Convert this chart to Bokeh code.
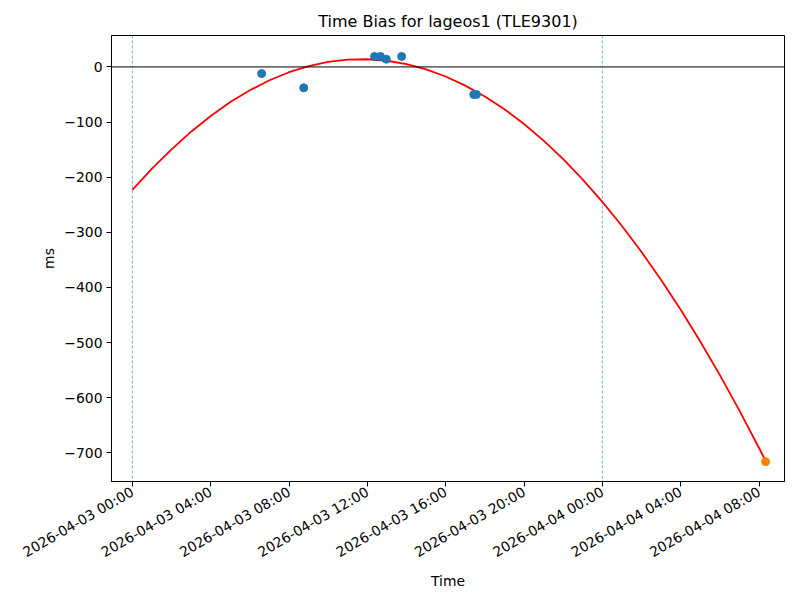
import math
import pandas as pd
from bokeh.plotting import figure
from bokeh.models import Span, FixedTicker, Range1d
from bokeh.embed import file_html
from bokeh.resources import INLINE

# ---- data ----
obs_times = ["2026-04-03 06:36", "2026-04-03 08:45", "2026-04-03 12:22", "2026-04-03 12:40",
             "2026-04-03 12:58", "2026-04-03 13:45", "2026-04-03 17:26", "2026-04-03 17:34"]
obs_bias = [-12, -38, 19, 19, 14, 19, -50, -50]

pred_times = ["2026-04-04 08:20"]
pred_bias = [-716]

fit_start = "2026-04-03 00:00"
fit_hours = [0, 1, 2, 3, 4, 5, 6, 7, 8, 9, 10, 11, 12, 13, 14, 15, 16, 17, 18, 19, 20,
             21, 22, 23, 24, 25, 26, 27, 28, 29, 30, 31, 32, 32.33]
fit_bias = [-223, -184.6, -149.6, -117.5, -88.9, -63.8, -42.3, -24.2, -9.6, 1.5, 9.0, 13.2,
            13.9, 11.2, 5.1, -4.5, -17.4, -33.9, -53.7, -76.9, -103.6, -133.8, -167.3, -204.3,
            -244.7, -288.5, -335.8, -386.4, -440.6, -498.0, -559.0, -623.5, -691.2, -714.5]

marker_times = ["2026-04-03 00:00", "2026-04-04 00:00"]

x_tick_labels = ["2026-04-03 00:00", "2026-04-03 04:00", "2026-04-03 08:00", "2026-04-03 12:00",
                 "2026-04-03 16:00", "2026-04-03 20:00", "2026-04-04 00:00", "2026-04-04 04:00",
                 "2026-04-04 08:00"]
y_ticks = [0, -100, -200, -300, -400, -500, -600, -700]

x_limits = ["2026-04-02 22:56", "2026-04-04 09:18"]
y_limits = [-752, 57]


def ms(s):
    return pd.Timestamp(s).value / 1e6


obs_x = [pd.Timestamp(t) for t in obs_times]
pred_x = [pd.Timestamp(t) for t in pred_times]
fit_x = [pd.Timestamp(fit_start) + pd.Timedelta(hours=h) for h in fit_hours]

FONT = "DejaVu Sans"

p = figure(width=785, height=592, x_axis_type="datetime", output_backend="svg",
           toolbar_location=None, title="Time Bias for lageos1 (TLE9301)",
           x_range=Range1d(pd.Timestamp(x_limits[0]), pd.Timestamp(x_limits[1])),
           y_range=Range1d(y_limits[0], y_limits[1]),
           min_border_left=111, min_border_right=1, min_border_top=35, min_border_bottom=111)

p.background_fill_color = "white"
p.border_fill_color = "white"
p.outline_line_color = "black"
p.outline_line_width = 1
p.grid.visible = False

p.title.text_font = FONT
p.title.text_font_size = "16px"
p.title.text_font_style = "normal"
p.title.align = "center"
p.title.text_color = "black"

# reference lines
p.add_layout(Span(location=0, dimension="width", line_color="black", line_width=1))
for t in marker_times:
    p.add_layout(Span(location=ms(t), dimension="height", line_color="#1f77b4",
                      line_width=0.6, line_dash="3 2"))

p.line(fit_x, fit_bias, line_color="red", line_width=1.8)
p.scatter(obs_x, obs_bias, size=8, fill_color="#1f77b4", line_color="#1f77b4")
p.scatter(pred_x, pred_bias, size=8, fill_color="#ff7f0e", line_color="#ff7f0e")

# axes
xt = [ms(s) for s in x_tick_labels]
p.xaxis.ticker = FixedTicker(ticks=xt)
p.xaxis.major_label_overrides = {v: s for v, s in zip(xt, x_tick_labels)}
p.xaxis.major_label_orientation = math.pi / 6
p.yaxis.ticker = FixedTicker(ticks=y_ticks)
p.yaxis.major_label_overrides = {v: (str(v).replace("-", "\u2212")) for v in y_ticks}

for ax in (p.xaxis[0], p.yaxis[0]):
    ax.axis_line_color = "black"
    ax.axis_line_width = 1
    ax.major_tick_line_color = "black"
    ax.major_tick_out = 5
    ax.major_tick_in = 0
    ax.minor_tick_line_color = None
    ax.major_label_text_font = FONT
    ax.major_label_text_font_size = "13.9px"
    ax.major_label_text_color = "black"
    ax.axis_label_text_font = FONT
    ax.axis_label_text_font_size = "13.9px"
    ax.axis_label_text_font_style = "normal"
    ax.axis_label_text_color = "black"

p.xaxis.axis_label = "Time"
p.yaxis.axis_label = "ms"
p.xaxis.major_label_standoff = 4
p.yaxis.major_label_standoff = 4
p.xaxis.axis_label_standoff = 3
p.yaxis.axis_label_standoff = 4

open("out.html", "w").write(file_html(p, INLINE))
